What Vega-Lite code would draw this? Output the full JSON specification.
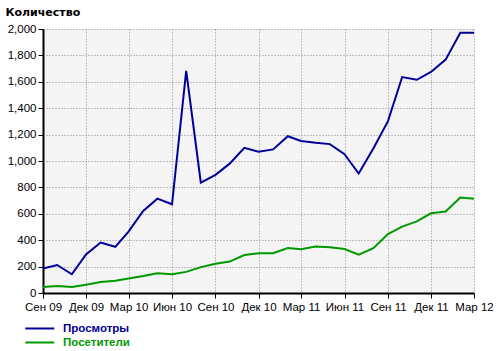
{
  "$schema": "https://vega.github.io/schema/vega-lite/v6.json",
  "width": 431,
  "height": 264,
  "autosize": {"type": "none"},
  "padding": {"left": 43, "top": 29, "right": 26, "bottom": 58},
  "background": "white",
  "config": {
    "view": {"fill": "#f4f4f4", "stroke": null},
    "font": "Liberation Sans"
  },
  "data": {
    "values": [
      {"date": "2009-09-01T00:00", "series": "Просмотры", "value": 185},
      {"date": "2009-10-01T00:00", "series": "Просмотры", "value": 212},
      {"date": "2009-11-01T00:00", "series": "Просмотры", "value": 142},
      {"date": "2009-12-01T00:00", "series": "Просмотры", "value": 292},
      {"date": "2010-01-01T00:00", "series": "Просмотры", "value": 382},
      {"date": "2010-02-01T00:00", "series": "Просмотры", "value": 350},
      {"date": "2010-03-01T00:00", "series": "Просмотры", "value": 465},
      {"date": "2010-04-01T00:00", "series": "Просмотры", "value": 622},
      {"date": "2010-05-01T00:00", "series": "Просмотры", "value": 715},
      {"date": "2010-06-01T00:00", "series": "Просмотры", "value": 672},
      {"date": "2010-07-01T00:00", "series": "Просмотры", "value": 1682},
      {"date": "2010-08-01T00:00", "series": "Просмотры", "value": 836},
      {"date": "2010-09-01T00:00", "series": "Просмотры", "value": 895},
      {"date": "2010-10-01T00:00", "series": "Просмотры", "value": 980},
      {"date": "2010-11-01T00:00", "series": "Просмотры", "value": 1100},
      {"date": "2010-12-01T00:00", "series": "Просмотры", "value": 1070},
      {"date": "2011-01-01T00:00", "series": "Просмотры", "value": 1088},
      {"date": "2011-02-01T00:00", "series": "Просмотры", "value": 1188},
      {"date": "2011-03-01T00:00", "series": "Просмотры", "value": 1152},
      {"date": "2011-04-01T00:00", "series": "Просмотры", "value": 1138},
      {"date": "2011-05-01T00:00", "series": "Просмотры", "value": 1128},
      {"date": "2011-06-01T00:00", "series": "Просмотры", "value": 1052},
      {"date": "2011-07-01T00:00", "series": "Просмотры", "value": 905},
      {"date": "2011-08-01T00:00", "series": "Просмотры", "value": 1095},
      {"date": "2011-09-01T00:00", "series": "Просмотры", "value": 1302},
      {"date": "2011-10-01T00:00", "series": "Просмотры", "value": 1636},
      {"date": "2011-11-01T00:00", "series": "Просмотры", "value": 1615},
      {"date": "2011-12-01T00:00", "series": "Просмотры", "value": 1675},
      {"date": "2012-01-01T00:00", "series": "Просмотры", "value": 1768},
      {"date": "2012-02-01T00:00", "series": "Просмотры", "value": 1972},
      {"date": "2012-03-01T00:00", "series": "Просмотры", "value": 1972},
      {"date": "2009-09-01T00:00", "series": "Посетители", "value": 45},
      {"date": "2009-10-01T00:00", "series": "Посетители", "value": 53},
      {"date": "2009-11-01T00:00", "series": "Посетители", "value": 45},
      {"date": "2009-12-01T00:00", "series": "Посетители", "value": 63},
      {"date": "2010-01-01T00:00", "series": "Посетители", "value": 83},
      {"date": "2010-02-01T00:00", "series": "Посетители", "value": 93},
      {"date": "2010-03-01T00:00", "series": "Посетители", "value": 110},
      {"date": "2010-04-01T00:00", "series": "Посетители", "value": 128},
      {"date": "2010-05-01T00:00", "series": "Посетители", "value": 150},
      {"date": "2010-06-01T00:00", "series": "Посетители", "value": 143},
      {"date": "2010-07-01T00:00", "series": "Посетители", "value": 160},
      {"date": "2010-08-01T00:00", "series": "Посетители", "value": 196},
      {"date": "2010-09-01T00:00", "series": "Посетители", "value": 221},
      {"date": "2010-10-01T00:00", "series": "Посетители", "value": 238},
      {"date": "2010-11-01T00:00", "series": "Посетители", "value": 288},
      {"date": "2010-12-01T00:00", "series": "Посетители", "value": 302},
      {"date": "2011-01-01T00:00", "series": "Посетители", "value": 302},
      {"date": "2011-02-01T00:00", "series": "Посетители", "value": 340},
      {"date": "2011-03-01T00:00", "series": "Посетители", "value": 332},
      {"date": "2011-04-01T00:00", "series": "Посетители", "value": 352},
      {"date": "2011-05-01T00:00", "series": "Посетители", "value": 346},
      {"date": "2011-06-01T00:00", "series": "Посетители", "value": 333},
      {"date": "2011-07-01T00:00", "series": "Посетители", "value": 290},
      {"date": "2011-08-01T00:00", "series": "Посетители", "value": 340},
      {"date": "2011-09-01T00:00", "series": "Посетители", "value": 446},
      {"date": "2011-10-01T00:00", "series": "Посетители", "value": 503},
      {"date": "2011-11-01T00:00", "series": "Посетители", "value": 542},
      {"date": "2011-12-01T00:00", "series": "Посетители", "value": 604},
      {"date": "2012-01-01T00:00", "series": "Посетители", "value": 617},
      {"date": "2012-02-01T00:00", "series": "Посетители", "value": 724},
      {"date": "2012-03-01T00:00", "series": "Посетители", "value": 714}
    ]
  },
  "mark": {"type": "line", "strokeWidth": 2, "interpolate": "linear"},
  "encoding": {
    "x": {
      "field": "date",
      "type": "temporal",
      "scale": {"domain": [{"year": 2009, "month": 9, "date": 1}, {"year": 2012, "month": 3, "date": 1}], "nice": false},
      "axis": {
        "title": null,
        "values": [
          {"year": 2009, "month": 9, "date": 1},
          {"year": 2009, "month": 12, "date": 1},
          {"year": 2010, "month": 3, "date": 1},
          {"year": 2010, "month": 6, "date": 1},
          {"year": 2010, "month": 9, "date": 1},
          {"year": 2010, "month": 12, "date": 1},
          {"year": 2011, "month": 3, "date": 1},
          {"year": 2011, "month": 6, "date": 1},
          {"year": 2011, "month": 9, "date": 1},
          {"year": 2011, "month": 12, "date": 1},
          {"year": 2012, "month": 3, "date": 1}
        ],
        "labelExpr": "['Янв','Фев','Мар','Апр','Май','Июн','Июл','Авг','Сен','Окт','Ноя','Дек'][month(datum.value)] + ' ' + timeFormat(datum.value, '%y')",
        "labelFont": "Liberation Sans",
        "labelFontSize": 11.5,
        "labelColor": "#000000",
        "labelPadding": 3,
        "labelOverlap": false,
        "labelFlush": false,
        "domainColor": "#000000",
        "domainWidth": 2,
        "tickColor": "#000000",
        "tickSize": 5,
        "tickWidth": 1,
        "grid": true,
        "gridColor": "#8a8a8a",
        "gridDash": [1, 2],
        "gridWidth": 1
      }
    },
    "y": {
      "field": "value",
      "type": "quantitative",
      "scale": {"domain": [0, 2000], "nice": false, "zero": true},
      "axis": {
        "title": "Количество",
        "titleAngle": 0,
        "titleAlign": "left",
        "titleBaseline": "middle",
        "titleX": -38,
        "titleY": -17,
        "titleFont": "DejaVu Sans",
        "titleFontSize": 11,
        "titleFontWeight": "bold",
        "titleColor": "#000000",
        "values": [0, 200, 400, 600, 800, 1000, 1200, 1400, 1600, 1800, 2000],
        "format": ",d",
        "labelFont": "Liberation Sans",
        "labelFontSize": 11.5,
        "labelColor": "#000000",
        "labelPadding": 2,
        "domainColor": "#000000",
        "domainWidth": 2,
        "tickColor": "#000000",
        "tickSize": 5,
        "tickWidth": 1,
        "grid": true,
        "gridColor": "#8a8a8a",
        "gridDash": [1, 2],
        "gridWidth": 1
      }
    },
    "color": {
      "field": "series",
      "type": "nominal",
      "scale": {"domain": ["Просмотры", "Посетители"], "range": ["#000099", "#009900"]},
      "legend": {
        "title": null,
        "orient": "none",
        "legendX": -19,
        "legendY": 291,
        "padding": 0,
        "symbolType": "M-1,0L3,0",
        "symbolSize": 210,
        "symbolStrokeWidth": 2,
        "symbolFillColor": "transparent",
        "labelFont": "Liberation Sans",
        "labelFontSize": 11.5,
        "labelFontWeight": "bold",
        "labelOffset": 22,
        "rowPadding": 0,
        "encode": {
          "labels": {"update": {"fill": {"signal": "scale('color', datum.value)"}}}
        }
      }
    }
  }
}
